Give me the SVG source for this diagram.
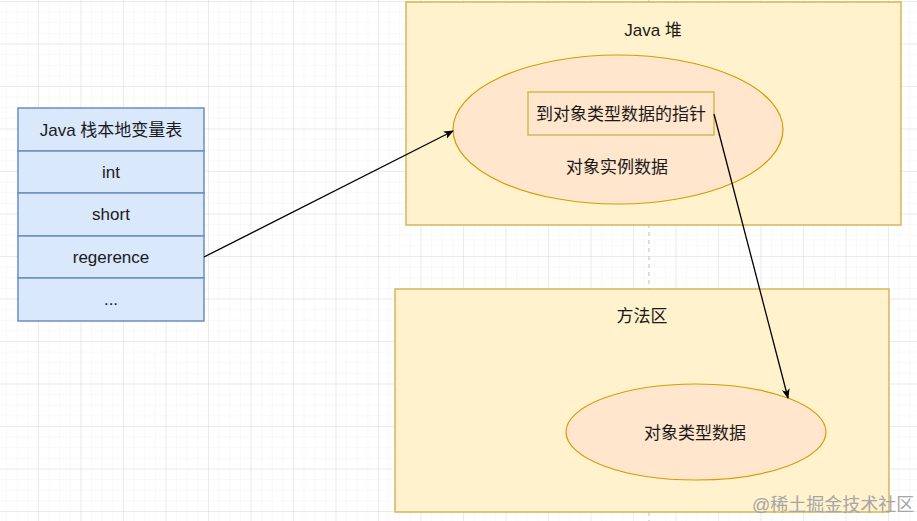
<svg xmlns="http://www.w3.org/2000/svg" width="917" height="521" viewBox="0 0 917 521">
<defs>
<pattern id="minor" patternUnits="userSpaceOnUse" x="38" y="1" width="10.625" height="10.625">
<path d="M0 0 V10.625 M0 0 H10.625" fill="none" stroke="#f2f2f2" stroke-width="1"/>
</pattern>
<pattern id="major" patternUnits="userSpaceOnUse" x="38" y="1" width="42.5" height="42.5">
<path d="M0 0 V42.5 M0 0 H42.5" fill="none" stroke="#dedede" stroke-width="1"/>
</pattern>
<marker id="arrow" viewBox="0 0 10 10" refX="9" refY="5" markerWidth="10" markerHeight="10" markerUnits="userSpaceOnUse" orient="auto">
<path d="M0 1 L10 5 L0 9 L2.5 5 Z" fill="#000"/>
</marker>
<style>
text{font-family:"Liberation Sans","Noto Sans CJK SC",sans-serif;font-size:17px;fill:#1a1a1a;text-anchor:middle;dominant-baseline:central}
.stack{fill:#dae8fc;stroke:#6c8ebf;stroke-width:1.5}
.area{fill:#fff2cc;stroke:#d6b656;stroke-width:1.5}
.ell{fill:#ffe6cc;stroke:#d79b00;stroke-width:1.2}
.conn{fill:none;stroke:#000;stroke-width:1.3;marker-end:url(#arrow)}
</style>
</defs>
<rect width="917" height="521" fill="#fff"/>
<rect width="917" height="521" fill="url(#minor)"/>
<rect width="917" height="521" fill="url(#major)"/>
<line x1="649" y1="0" x2="649" y2="521" stroke="#bdbdbd" stroke-width="1" stroke-dasharray="4 4"/>

<g id="stack">
<rect class="stack" x="18" y="108" width="186" height="43"/>
<rect class="stack" x="18" y="151" width="186" height="42"/>
<rect class="stack" x="18" y="193" width="186" height="43"/>
<rect class="stack" x="18" y="236" width="186" height="42"/>
<rect class="stack" x="18" y="278" width="186" height="43"/>
<text x="111" y="130">Java 栈本地变量表</text>
<text x="111" y="172">int</text>
<text x="111" y="214">short</text>
<text x="111" y="257">regerence</text>
<text x="111" y="299">...</text>
</g>

<g id="heap">
<rect class="area" x="406" y="2" width="495" height="223"/>
<text x="653" y="30">Java 堆</text>
</g>

<g id="instance">
<ellipse class="ell" cx="618" cy="129.5" rx="165" ry="74.5"/>
<text x="617" y="167">对象实例数据</text>
</g>

<g id="pointer">
<rect x="528" y="92" width="186" height="43" fill="#ffe6cc" stroke="#d6b656" stroke-width="1.5"/>
<text x="621" y="114">到对象类型数据的指针</text>
</g>

<g id="method">
<rect class="area" x="395" y="289" width="494" height="223"/>
<text x="642" y="316">方法区</text>
</g>

<g id="typedata">
<ellipse class="ell" cx="696" cy="432" rx="130" ry="48"/>
<text x="695" y="433">对象类型数据</text>
</g>

<g id="connectors">
<line class="conn" x1="204" y1="257" x2="453" y2="131"/>
<line class="conn" x1="714" y1="114" x2="788" y2="398"/>
</g>

<text x="752" y="505" style="text-anchor:start;font-size:18px;fill:#a6a6a6">@稀土掘金技术社区</text>
</svg>
